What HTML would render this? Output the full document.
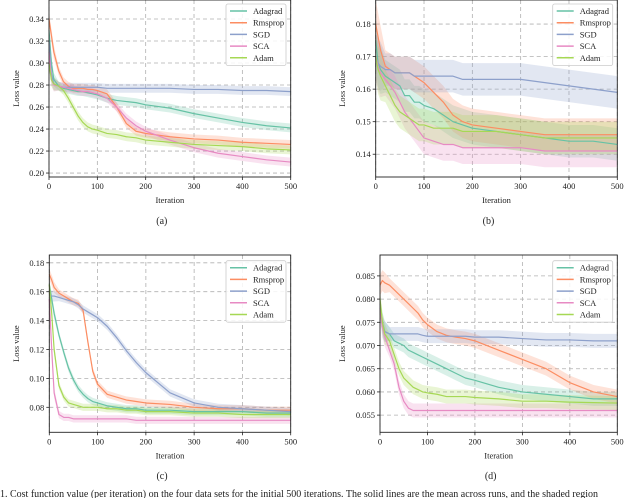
<!DOCTYPE html>
<html><head><meta charset="utf-8">
<style>
body{margin:0;background:#fff;width:640px;height:498px;overflow:hidden;font-family:"Liberation Serif","DejaVu Serif",serif;}
svg{display:block;font-family:"Liberation Serif","DejaVu Serif",serif}
svg text{font-family:"Liberation Serif","DejaVu Serif",serif !important;fill:#222}
</style></head>
<body>
<svg id="fig" width="640" height="498" viewBox="0 0 640 498" xmlns="http://www.w3.org/2000/svg" font-family="Liberation Serif, DejaVu Serif, serif"></svg>
<script>
const iterations=[0,5,10,20,30,40,50,60,70,80,90,100,120,140,160,180,200,250,300,350,400,450,500];
const seriesNames=["Adagrad","Rmsprop","SGD","SCA","Adam"];
const xTicks=[0,100,200,300,400,500];

const aAdagrad=[0.33,0.30,0.285,0.279,0.277,0.276,0.275,0.274,0.274,0.273,0.272,0.271,0.268,0.266,0.265,0.264,0.262,0.259,0.254,0.250,0.246,0.243,0.241];
const aRmsprop=[0.34,0.325,0.31,0.293,0.283,0.279,0.277,0.277,0.277,0.276,0.276,0.275,0.272,0.260,0.245,0.238,0.236,0.233,0.231,0.230,0.228,0.227,0.226];
const aSGD=[0.32,0.29,0.281,0.279,0.278,0.278,0.278,0.278,0.278,0.278,0.278,0.278,0.277,0.277,0.277,0.277,0.277,0.277,0.276,0.276,0.275,0.275,0.274];
const aSCA=[0.31,0.285,0.28,0.279,0.278,0.277,0.276,0.275,0.274,0.274,0.273,0.272,0.268,0.260,0.250,0.243,0.238,0.230,0.223,0.218,0.215,0.212,0.210];
const aAdam=[0.30,0.285,0.281,0.279,0.275,0.268,0.260,0.252,0.246,0.242,0.240,0.239,0.236,0.235,0.233,0.232,0.230,0.228,0.226,0.225,0.224,0.222,0.221];
const aTicks=[0.20,0.22,0.24,0.26,0.28,0.30,0.32,0.34];

const bAdagrad=[0.175,0.168,0.166,0.164,0.163,0.162,0.161,0.158,0.158,0.156,0.156,0.155,0.154,0.152,0.150,0.149,0.148,0.147,0.146,0.145,0.144,0.144,0.143];
const bRmsprop=[0.18,0.176,0.172,0.167,0.166,0.165,0.165,0.165,0.165,0.164,0.163,0.162,0.159,0.156,0.152,0.150,0.149,0.148,0.147,0.146,0.146,0.146,0.146];
const bSGD=[0.17,0.168,0.167,0.166,0.166,0.165,0.165,0.165,0.165,0.164,0.164,0.164,0.164,0.164,0.164,0.163,0.163,0.163,0.163,0.162,0.161,0.160,0.159];
const bSCA=[0.17,0.167,0.165,0.163,0.161,0.159,0.156,0.153,0.151,0.149,0.147,0.145,0.144,0.143,0.143,0.142,0.142,0.142,0.142,0.141,0.141,0.141,0.141];
const bAdam=[0.17,0.166,0.164,0.161,0.158,0.155,0.153,0.152,0.151,0.150,0.149,0.149,0.148,0.148,0.148,0.147,0.147,0.147,0.146,0.145,0.145,0.145,0.145];
const bTicks=[0.14,0.15,0.16,0.17,0.18];

const cAdagrad=[0.165,0.155,0.145,0.130,0.118,0.107,0.099,0.093,0.089,0.086,0.084,0.083,0.081,0.080,0.079,0.079,0.078,0.078,0.077,0.077,0.077,0.076,0.076];
const cRmsprop=[0.172,0.168,0.163,0.159,0.157,0.155,0.153,0.152,0.147,0.125,0.105,0.096,0.089,0.087,0.085,0.084,0.083,0.082,0.080,0.079,0.079,0.078,0.078];
const cSGD=[0.158,0.157,0.157,0.156,0.155,0.154,0.153,0.151,0.148,0.146,0.144,0.142,0.136,0.128,0.119,0.111,0.104,0.090,0.083,0.080,0.079,0.078,0.077];
const cSCA=[0.155,0.120,0.090,0.075,0.073,0.073,0.072,0.072,0.072,0.072,0.072,0.072,0.072,0.072,0.072,0.071,0.071,0.071,0.071,0.071,0.071,0.071,0.071];
const cAdam=[0.165,0.145,0.120,0.095,0.087,0.083,0.082,0.081,0.080,0.080,0.080,0.080,0.079,0.079,0.078,0.078,0.077,0.077,0.076,0.076,0.075,0.075,0.075];
const cTicks=[0.08,0.10,0.12,0.14,0.16,0.18];

const dAdagrad=[0.078,0.075,0.073,0.0725,0.071,0.0705,0.070,0.069,0.0685,0.068,0.0675,0.067,0.066,0.065,0.064,0.063,0.0625,0.061,0.060,0.0595,0.059,0.0585,0.0585];
const dRmsprop=[0.083,0.084,0.0835,0.083,0.082,0.081,0.080,0.079,0.078,0.077,0.0755,0.0745,0.073,0.0722,0.0718,0.0715,0.071,0.069,0.067,0.065,0.062,0.060,0.059];
const dSGD=[0.079,0.074,0.073,0.0725,0.0725,0.0725,0.0725,0.0725,0.0725,0.0725,0.0722,0.072,0.072,0.072,0.072,0.072,0.0718,0.0718,0.0715,0.0712,0.0712,0.071,0.071];
const dSCA=[0.078,0.074,0.072,0.069,0.066,0.061,0.058,0.0565,0.056,0.056,0.056,0.056,0.056,0.056,0.056,0.056,0.056,0.056,0.056,0.056,0.056,0.056,0.056];
const dAdam=[0.08,0.075,0.0725,0.071,0.068,0.065,0.063,0.062,0.061,0.0605,0.060,0.0598,0.0595,0.059,0.059,0.059,0.0588,0.0585,0.058,0.058,0.0578,0.0577,0.0576];
const dTicks=[0.055,0.060,0.065,0.070,0.075,0.080,0.085];

const colors=["#66c2a5","#fc8d62","#8da0cb","#e78ac3","#a6d854"];
const NS="http://www.w3.org/2000/svg";
const FONT="Liberation Serif, DejaVu Serif, serif";
const svg=document.getElementById('fig');
function mk(tag,attrs,parent){const e=document.createElementNS(NS,tag);for(const k in attrs)e.setAttribute(k,attrs[k]);if(tag==='text')e.setAttribute('font-family',FONT);(parent||svg).appendChild(e);return e;}

const panels=[
 {id:"a",L:49,R:290.7,T:0,B:177,y0:0.1964,y1:0.3573,ticks:aTicks,fmt:2,series:[aAdagrad,aRmsprop,aSGD,aSCA,aAdam],band:0.004,ylabX:19,leg:[226,4],lab:224},
 {id:"b",L:375.7,R:617.3,T:0,B:177,y0:0.1330,y1:0.1874,ticks:bTicks,fmt:2,series:[bAdagrad,bRmsprop,bSGD,bSCA,bAdam],band:0.005,ylabX:345,leg:[552.7,4],lab:224},
 {id:"c",L:49.3,R:290.7,T:255,B:432.3,y0:0.0627,y1:0.1854,ticks:cTicks,fmt:2,series:[cAdagrad,cRmsprop,cSGD,cSCA,cAdam],band:0.0025,ylabX:19,leg:[226,260.7],lab:479},
 {id:"d",L:380,R:617.3,T:255,B:432.3,y0:0.0513,y1:0.0895,ticks:dTicks,fmt:3,series:[dAdagrad,dRmsprop,dSGD,dSCA,dAdam],band:0.0015,ylabX:345,leg:[552.7,260.7],lab:479}
];

panels.forEach(p=>{
 const g=mk('g',{});
 
 
 const xs=v=>p.L+(v/500)*(p.R-p.L);
 const ys=v=>p.B-(v-p.y0)/(p.y1-p.y0)*(p.B-p.T);
 xTicks.forEach(t=>{const l=mk('line',{x1:xs(t),x2:xs(t),y1:p.T,y2:p.B,stroke:"#b0b0b0","stroke-width":0.8,"stroke-dasharray":"4,3"},g);});
 p.ticks.forEach(t=>{const l=mk('line',{x1:p.L,x2:p.R,y1:ys(t),y2:ys(t),stroke:"#b0b0b0","stroke-width":0.8,"stroke-dasharray":"4,3"},g);});
 p.series.forEach((s,i)=>{
   const up=iterations.map((x,j)=>xs(x)+","+ys(s[j]+p.band*(j<3?1.5:1))).join(" ");
   const dn=iterations.map((x,j)=>xs(x)+","+ys(s[j]-p.band*(j<3?1.5:1))).reverse().join(" ");
   const band=mk('polygon',{points:up+" "+dn,fill:colors[i],"fill-opacity":0.25,stroke:"none"},g);
   
   
 });
 p.series.forEach((s,i)=>{
   const pts=iterations.map((x,j)=>xs(x)+","+ys(s[j])).join(" ");
   const line=mk('polyline',{points:pts,fill:"none",stroke:colors[i],"stroke-width":1.2,"stroke-linejoin":"round"},g);
   
   
 });
 const fr=mk('rect',{x:p.L,y:p.T,width:p.R-p.L,height:p.B-p.T,fill:"none",stroke:"#222","stroke-width":0.9},g);
 
 
 xTicks.forEach(t=>{
   mk('line',{x1:xs(t),x2:xs(t),y1:p.B,y2:p.B+3,stroke:"#222","stroke-width":0.8},g);
   const tx=mk('text',{x:xs(t),y:p.B+12,"font-size":8.5,"text-anchor":"middle"},g);tx.textContent=t;
   
   
 });
 p.ticks.forEach(t=>{
   mk('line',{x1:p.L-3,x2:p.L,y1:ys(t),y2:ys(t),stroke:"#222","stroke-width":0.8},g);
   const tx=mk('text',{x:p.L-5,y:ys(t)+3,"font-size":8.5,"text-anchor":"end"},g);tx.textContent=t.toFixed(p.fmt);
   
   
 });
 const xl=mk('text',{x:(p.L+p.R)/2,y:p.B+26,"font-size":8.5,"text-anchor":"middle"},g);xl.textContent="Iteration";
 
 
 const cy=(p.T+p.B)/2;
 const yl=mk('text',{x:p.ylabX,y:cy,"font-size":8.5,"text-anchor":"middle",transform:`rotate(-90 ${p.ylabX} ${cy})`},g);yl.textContent="Loss value";
 
 
 const pl=mk('text',{x:(p.L+p.R)/2-8,y:p.lab,"font-size":10,"text-anchor":"middle"},g);pl.textContent="("+p.id+")";
 
 
 const lg=mk('g',{},g);
 
 
 mk('rect',{x:p.leg[0],y:p.leg[1],width:60,height:61.5,fill:"#fff","fill-opacity":0.85,stroke:"#ccc","stroke-width":0.8,rx:2},lg);
 seriesNames.forEach((n,i)=>{
   const yy=p.leg[1]+7+i*11.7;
   const e=mk('g',{},lg);
   
   
   mk('line',{x1:p.leg[0]+4,x2:p.leg[0]+21,y1:yy,y2:yy,stroke:colors[i],"stroke-width":1.5},e);
   const t=mk('text',{x:p.leg[0]+27,y:yy+3,"font-size":8.5},e);t.textContent=n;
 });
});
const cap=mk('text',{x:0,y:497,"font-size":10});
cap.textContent="1.    Cost function value (per iteration) on the four data sets for the initial 500 iterations. The solid lines are the mean across runs, and the shaded region";


</script>
</body></html>
